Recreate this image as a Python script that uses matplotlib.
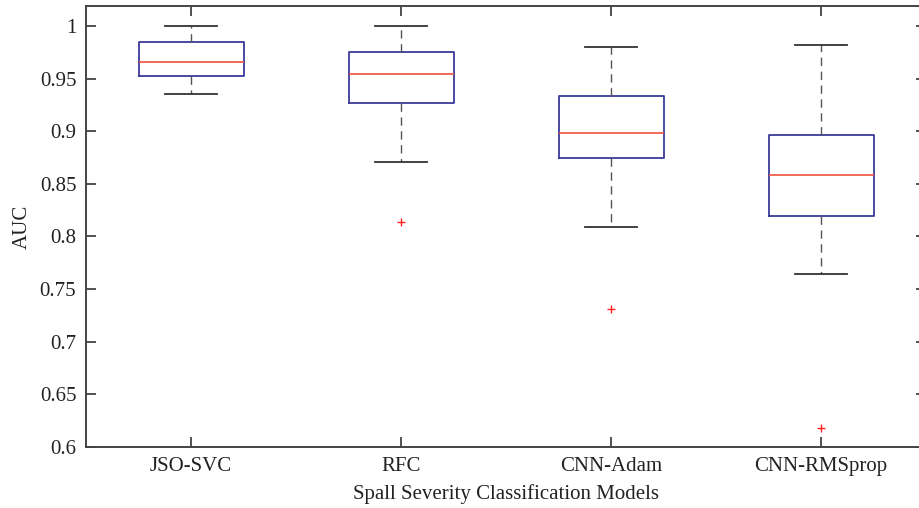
import matplotlib.pyplot as plt

plt.rcParams['font.family'] = ['Liberation Serif', 'DejaVu Serif']

models = ['JSO-SVC', 'RFC', 'CNN-Adam', 'CNN-RMSprop']
whislo = [0.9354, 0.871, 0.809, 0.7643]
q1 = [0.9528, 0.9265, 0.8745, 0.8191]
med = [0.9658, 0.9544, 0.898, 0.858]
q3 = [0.985, 0.9753, 0.9335, 0.8964]
whishi = [1.0, 1.0, 0.980, 0.9822]
fliers = [[], [0.8134], [0.7307], [0.6182]]

stats = []
for i, name in enumerate(models):
    stats.append(dict(label=name, whislo=whislo[i], q1=q1[i], med=med[i],
                      q3=q3[i], whishi=whishi[i], fliers=fliers[i]))

fig = plt.figure(figsize=(9.19, 5.08), dpi=100)
# axes runs a bit past the right edge, like the cropped original
ax = fig.add_axes([86 / 919, 1 - 447 / 508, 840 / 919, 441 / 508])

ax.bxp(stats, positions=[1, 2, 3, 4], widths=0.5,
       boxprops=dict(color='#3a3a9a', linewidth=1.3),
       medianprops=dict(color='#f0503c', linewidth=1.2),
       whiskerprops=dict(color='#555555', linewidth=1.0, linestyle=(0, (6, 4))),
       capprops=dict(color='#333333', linewidth=1.3),
       flierprops=dict(marker='+', markeredgecolor='#ff2020', markersize=6,
                       linestyle='none'),
       capwidths=0.25)

ax.set_xlim(0.5, 4.5)
ax.set_ylim(0.6, 1.019)
ax.set_yticks([0.6, 0.65, 0.7, 0.75, 0.8, 0.85, 0.9, 0.95, 1.0])
ax.set_yticklabels(['0.6', '0.65', '0.7', '0.75', '0.8', '0.85', '0.9', '0.95', '1'])
ax.tick_params(direction='in', top=True, right=True, length=7, width=1.2,
               labelsize=15, colors='#333333', labelcolor='#222222', pad=7)
for s in ax.spines.values():
    s.set_color('#444444')
    s.set_linewidth(1.4)

ax.set_ylabel('AUC', fontsize=15, color='#222222', labelpad=6)
ax.set_xlabel('Spall Severity Classification Models', fontsize=15,
              color='#222222', labelpad=6)

fig.savefig('out.png', dpi=100)
